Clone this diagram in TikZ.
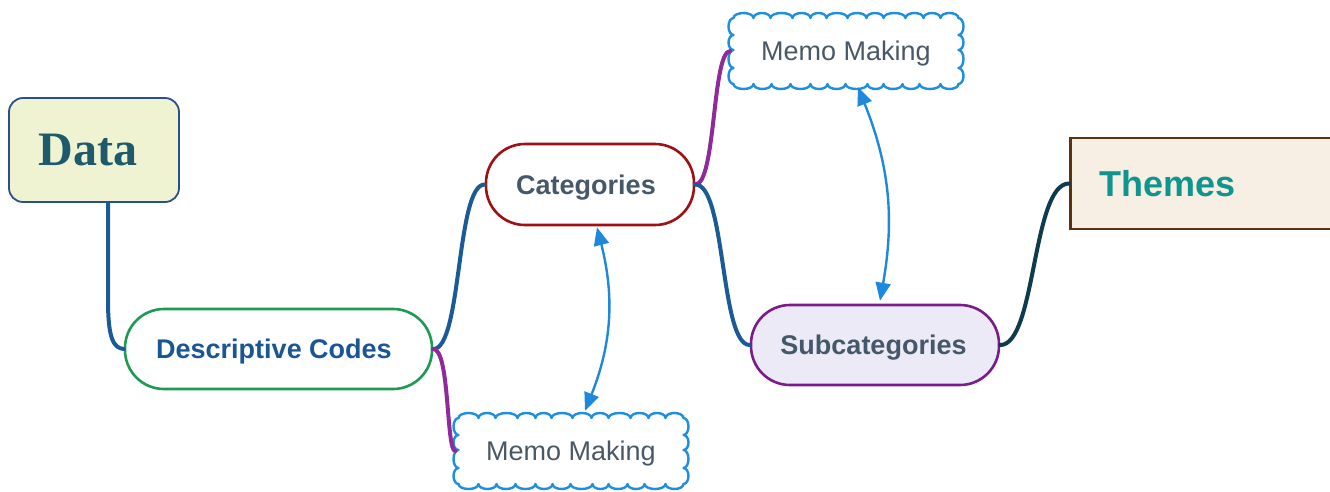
\documentclass[tikz,border=0pt]{standalone}
\usepackage{fontspec}
\setmainfont{Liberation Serif}
\setsansfont{Liberation Sans}
\usetikzlibrary{arrows.meta}

\definecolor{datafill}{HTML}{EFF3D2}
\definecolor{dataline}{HTML}{2B4F8A}
\definecolor{datatext}{HTML}{1E5A6B}
\definecolor{codeline}{HTML}{1E9A55}
\definecolor{codetext}{HTML}{1A5596}
\definecolor{linkblue}{HTML}{1A5A96}
\definecolor{catline}{HTML}{A00F14}
\definecolor{greytext}{HTML}{44586A}
\definecolor{subfill}{HTML}{EBEAF6}
\definecolor{subline}{HTML}{7A1C8C}
\definecolor{themefill}{HTML}{F7EFE4}
\definecolor{themeline}{HTML}{5C3311}
\definecolor{themetext}{HTML}{0F958E}
\definecolor{linkpurple}{HTML}{8E2A9A}
\definecolor{linkteal}{HTML}{0E3B4D}
\definecolor{cloudline}{HTML}{1E8FE0}
\definecolor{memotext}{HTML}{4A5866}
\definecolor{arrowblue}{HTML}{1E88DD}

\tikzset{
  pill/.style={draw, line width=2.6pt, fill=white, rounded corners=39pt,
    font=\sffamily\bfseries\fontsize{27}{30}\selectfont, inner sep=0pt,
    text height=19.4pt, text depth=0pt},
  memo/.style={minimum width=225pt, minimum height=66pt, inner sep=0pt,
    text=memotext, font=\sffamily\fontsize{27}{30}\selectfont,
    text height=19.4pt, text depth=0pt},
  cloudedge/.style={draw=cloudline, fill=white, line width=2.4pt, line join=round},
  branch/.style={line width=4pt, line cap=round},
  memolink/.style={arrowblue, line width=2.4pt,
    {Triangle[length=18pt,width=15pt]}-{Triangle[length=18pt,width=15pt]}},
}

% scalloped outline of a 225 x 66 memo box centred on #1
\newcommand\memocloud[1]{%
  \draw[cloudedge] ([shift={(-112.5,-33)}]#1)
    \foreach \w in {20,17,22,18,16,21,19,17,22,18,17,18}
      { arc[start angle=180, end angle=0, x radius=\w*0.5pt, y radius=5pt] }
    \foreach \w in {17,15,18,16}
      { arc[start angle=90, end angle=-90, x radius=5pt, y radius=\w*0.5pt] }
    \foreach \w in {18,21,17,19,16,22,18,17,20,19,18,20}
      { arc[start angle=0, end angle=-180, x radius=\w*0.5pt, y radius=5pt] }
    \foreach \w in {16,18,15,17}
      { arc[start angle=-90, end angle=-270, x radius=5pt, y radius=\w*0.5pt] }
    -- cycle;}

\begin{document}
\begin{tikzpicture}[x=1pt, y=-1pt]
\useasboundingbox (0,0) rectangle (1330,491);

% topic boxes
\node[draw=dataline, fill=datafill, line width=1.8pt, rounded corners=14pt,
  minimum width=170pt, minimum height=104pt, inner sep=0pt, text=datatext,
  font=\bfseries\fontsize{48}{52}\selectfont] (data) at (94,150)
  {\hspace*{-12pt}Data};

\node[pill, draw=codeline, text=codetext, minimum width=307pt, minimum height=80pt]
  (codes) at (278.5,349) {\hspace*{-9pt}Descriptive Codes};

\node[pill, draw=catline, text=greytext, minimum width=208pt, minimum height=81pt]
  (cat) at (590,184.5) {\hspace*{-8pt}Categories};

\node[pill, draw=subline, fill=subfill, text=greytext, minimum width=248pt, minimum height=80pt]
  (sub) at (875,345) {\hspace*{-3pt}Subcategories};

\node[draw=themeline, fill=themefill, line width=2.6pt, anchor=west,
  minimum height=91pt, inner xsep=29pt, text width=210pt, align=left,
  text height=25.8pt, text depth=0pt,
  text=themetext, font=\sffamily\bfseries\fontsize{36}{40}\selectfont]
  (themes) at (1069,183.5) {Themes};

% memo clouds
\coordinate (topc) at (846,51);
\coordinate (botc) at (571,451);
\memocloud{topc}
\memocloud{botc}
\node[memo] (memotop) at (topc) {Memo Making};
\node[memo] (memobot) at (botc) {Memo Making};

% branches
\coordinate (dataend) at (108,300);
\draw[branch, linkblue] (data.south -| dataend) -- (dataend)
  .. controls (108,340) and (114,348) .. (codes.west);
\draw[branch, linkblue] (codes.east) .. controls (462,349) and (456,184.5) .. (cat.west);
\draw[branch, linkpurple] (codes.east) .. controls (450,349) and (446,451) .. ([xshift=-3pt]memobot.west);
\draw[branch, linkpurple] (cat.east) .. controls (716,184.5) and (712,51) .. ([xshift=-3pt]memotop.west);
\draw[branch, linkblue] (cat.east) .. controls (726,184.5) and (720,345) .. (sub.west);
\draw[branch, linkteal] (sub.east) .. controls (1036,345) and (1032,183.5) .. (themes.west);

% memo links
\draw[memolink] ([xshift=7pt,yshift=-1pt]cat.south) to[bend left=18] ([xshift=14pt,yshift=7pt]memobot.north);
\draw[memolink] ([xshift=12pt,yshift=-3pt]memotop.south) to[bend left=16] ([xshift=5pt,yshift=3pt]sub.north);
\end{tikzpicture}
\end{document}
